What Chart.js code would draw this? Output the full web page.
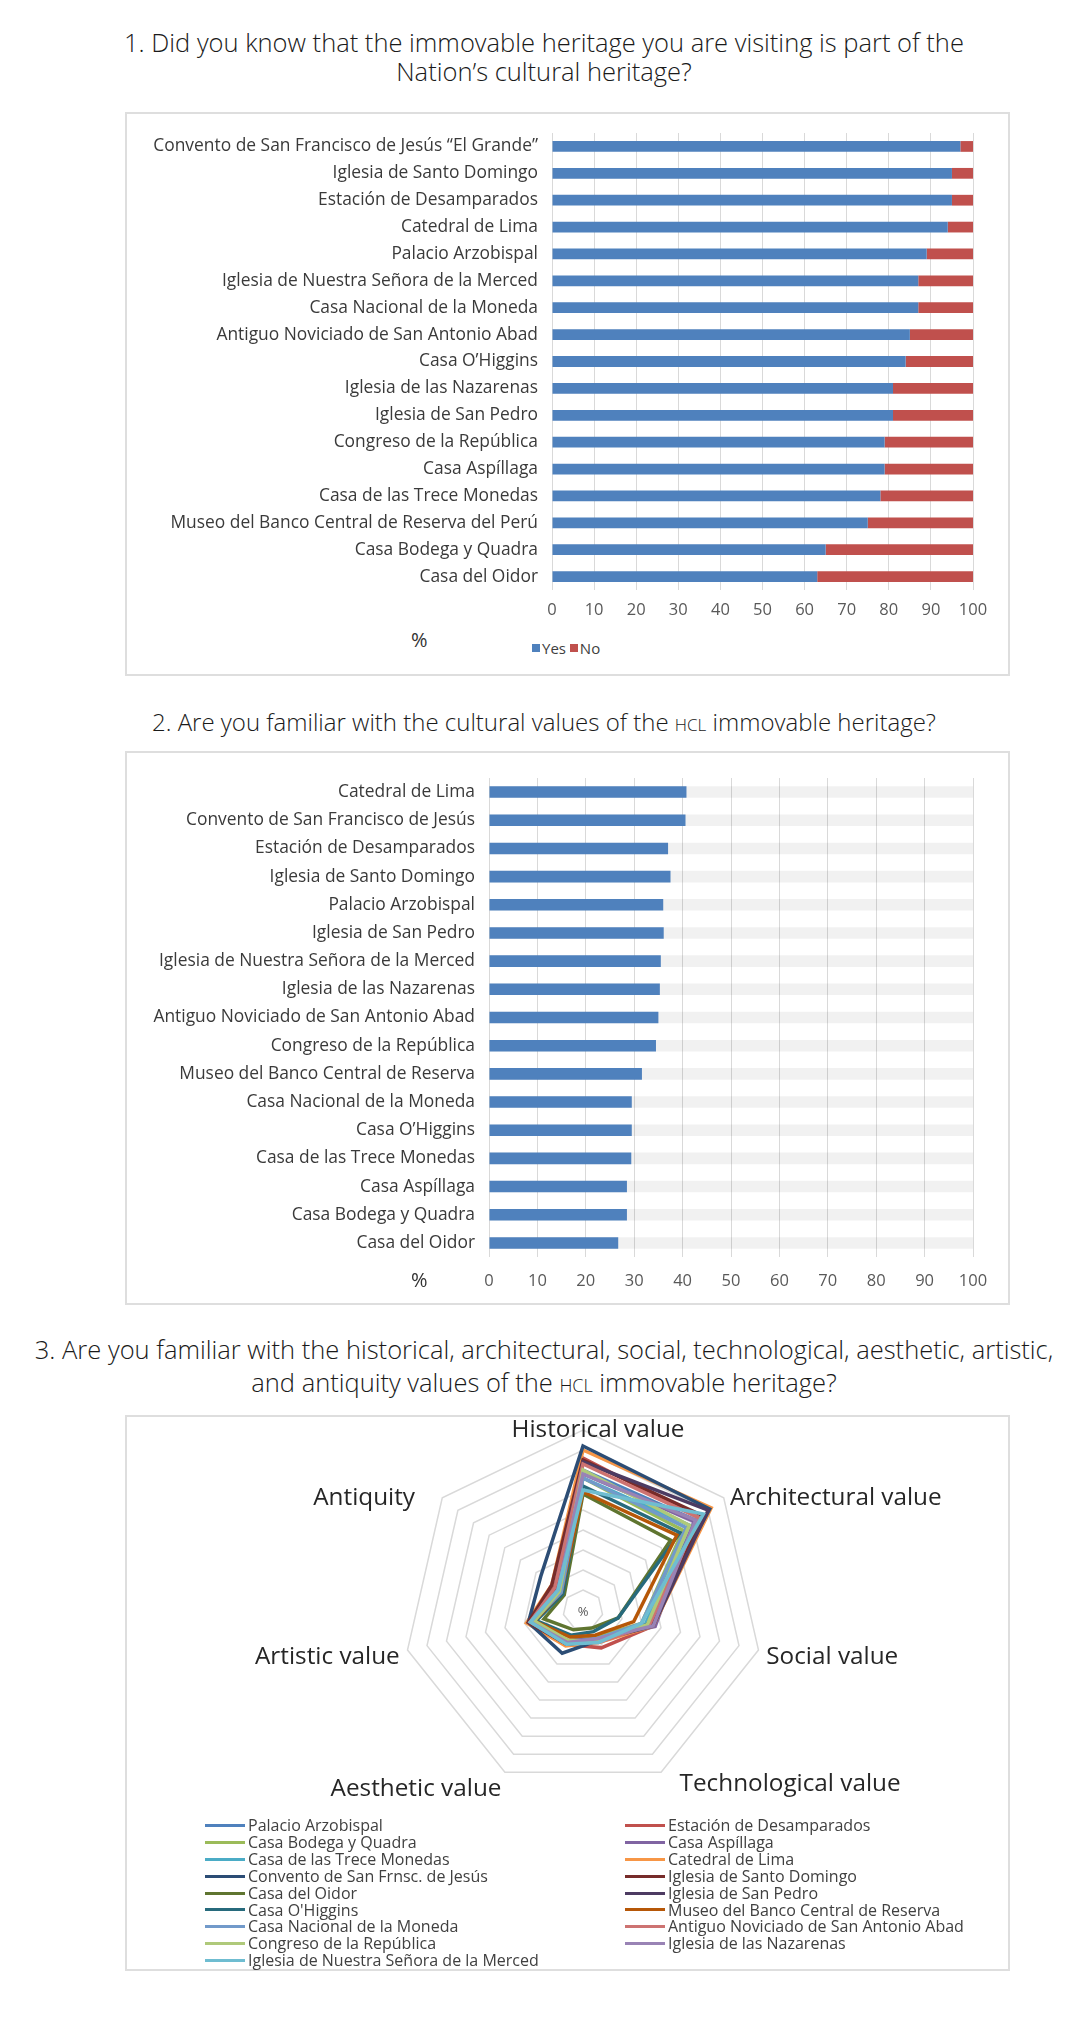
<!DOCTYPE html>
<html>
<head>
<meta charset="utf-8">
<script src="https://cdn.jsdelivr.net/npm/chart.js@4.4.1/dist/chart.umd.min.js"></script>
<style>
  html, body { margin: 0; padding: 0; background: #fff; }
  body { width: 1079px; height: 2028px; position: relative; overflow: hidden; font-family: 'Open Sans', sans-serif; }
  .title { position: absolute; width: 1088px; text-align: center; font-weight: 300; color: #1a1a1a; white-space: nowrap; }
  .sc { font-variant: small-caps; }
  .box { position: absolute; left: 125px; width: 885px; border: 2px solid #dedede; box-sizing: border-box; }
  canvas { position: absolute; }
  .pct { position: absolute; font-size: 20px; color: #333; }
  .key { position: absolute; display: flex; align-items: center; font-size: 15px; color: #404040; }
  .sq { display: inline-block; width: 8px; height: 8px; margin: 0 2px 0 0; }
  .legend3 { position: absolute; font-size: 16px; color: #404040; line-height: 16.9px; }
  .legend3 .item { position: absolute; display: flex; align-items: center; white-space: nowrap; }
  .legend3 .line { display: inline-block; width: 40px; height: 3px; margin-right: 3px; }
</style>
</head>
<body>

<div class="title" style="left:0; top:28px; line-height:29px; font-size:25.5px;">1. Did you know that the immovable heritage you are visiting is part of the<br>Nation’s cultural heritage?</div>
<div class="box" style="top:112px; height:564px;"></div>
<canvas id="q1Chart" width="881" height="511" style="left:127px; top:114px;"></canvas>
<div class="pct" style="left:411px; top:626px;">%</div>
<div class="key" style="left:532px; top:638px;">
  <span class="sq" style="background:#4F81BD"></span>Yes&nbsp;<span class="sq" style="background:#C0504D"></span>No
</div>

<div class="title" style="left:0; top:707px; line-height:29px; font-size:24px;">2. Are you familiar with the cultural values of the <span class="sc">hcl</span> immovable heritage?</div>
<div class="box" style="top:751px; height:554px;"></div>
<canvas id="q2Chart" width="881" height="540" style="left:127px; top:753px;"></canvas>
<div class="pct" style="left:411px; top:1266px;">%</div>

<div class="title" style="left:0; top:1333px; line-height:32.5px; font-size:25.5px;">3. Are you familiar with the historical, architectural, social, technological, aesthetic, artistic,<br>and antiquity values of the <span class="sc">hcl</span> immovable heritage?</div>
<div class="box" style="top:1415px; height:556px;"></div>
<canvas id="q3Chart" width="881" height="430" style="left:127px; top:1390px;"></canvas>
<div class="legend3" id="q3Legend"></div>

<script>
Chart.defaults.font.family = "'Open Sans', sans-serif";
Chart.defaults.animation = false;

// Question 1 data
const q1Sites = [
    "Convento de San Francisco de Jesús “El Grande”",
    "Iglesia de Santo Domingo",
    "Estación de Desamparados",
    "Catedral de Lima",
    "Palacio Arzobispal",
    "Iglesia de Nuestra Señora de la Merced",
    "Casa Nacional de la Moneda",
    "Antiguo Noviciado de San Antonio Abad",
    "Casa O’Higgins",
    "Iglesia de las Nazarenas",
    "Iglesia de San Pedro",
    "Congreso de la República",
    "Casa Aspíllaga",
    "Casa de las Trece Monedas",
    "Museo del Banco Central de Reserva del Perú",
    "Casa Bodega y Quadra",
    "Casa del Oidor"
];
const q1Yes = [97, 95, 95, 94, 89, 87, 87, 85, 84, 81, 81, 79, 79, 78, 75, 65, 63];
const q1No = [3, 5, 5, 6, 11, 13, 13, 15, 16, 19, 19, 21, 21, 22, 25, 35, 37];
const q1Ticks = [0, 10, 20, 30, 40, 50, 60, 70, 80, 90, 100];

// Question 2 data
const q2Sites = [
    "Catedral de Lima",
    "Convento de San Francisco de Jesús",
    "Estación de Desamparados",
    "Iglesia de Santo Domingo",
    "Palacio Arzobispal",
    "Iglesia de San Pedro",
    "Iglesia de Nuestra Señora de la Merced",
    "Iglesia de las Nazarenas",
    "Antiguo Noviciado de San Antonio Abad",
    "Congreso de la República",
    "Museo del Banco Central de Reserva",
    "Casa Nacional de la Moneda",
    "Casa O’Higgins",
    "Casa de las Trece Monedas",
    "Casa Aspíllaga",
    "Casa Bodega y Quadra",
    "Casa del Oidor"
];
const q2Familiar = [40.8, 40.6, 37.0, 37.5, 36.0, 36.1, 35.5, 35.3, 35.0, 34.5, 31.6, 29.5, 29.5, 29.4, 28.5, 28.5, 26.7];
const q2Track = [100, 100, 100, 100, 100, 100, 100, 100, 100, 100, 100, 100, 100, 100, 100, 100, 100];

// Question 3 data
const q3Axes = ["Historical value", "Architectural value", "Social value", "Technological value", "Aesthetic value", "Artistic value", "Antiquity"];
const palacioArzobispal = [70, 72, 33, 17, 19, 27, 17];
const estacionDesamparados = [76, 74, 36, 21, 19, 27, 19];
const casaBodegaQuadra = [66, 64, 30, 15, 17, 26, 15];
const casaAspillaga = [68, 71, 37, 16, 17, 27, 16];
const casaTreceMonedas = [66, 68, 32, 16, 18, 26, 15];
const catedralLima = [80, 82, 36, 18, 20, 29, 20];
const conventoSanFrancisco = [82, 81, 33, 17, 24, 28, 27];
const santoDomingo = [75, 76, 35, 17, 19, 28, 20];
const casaOidor = [58, 56, 18, 10, 11, 20, 12];
const sanPedro = [74, 80, 36, 17, 19, 27, 18];
const casaOHiggins = [62, 62, 18, 12, 14, 24, 13];
const museoBCR = [59, 60, 26, 14, 15, 25, 14];
const casaMoneda = [66, 66, 30, 16, 19, 26, 14];
const antiguoNoviciado = [73, 74, 34, 18, 18, 27, 18];
const congresoRepublica = [70, 68, 33, 17, 17, 25, 15];
const iglesiaNazarenas = [68, 72, 36, 16, 18, 27, 16];
const iglesiaMerced = [60, 77, 30, 18, 19, 27, 16];

const q3Names = [
    "Palacio Arzobispal", "Estación de Desamparados",
    "Casa Bodega y Quadra", "Casa Aspíllaga",
    "Casa de las Trece Monedas", "Catedral de Lima",
    "Convento de San Frnsc. de Jesús", "Iglesia de Santo Domingo",
    "Casa del Oidor", "Iglesia de San Pedro",
    "Casa O'Higgins", "Museo del Banco Central de Reserva",
    "Casa Nacional de la Moneda", "Antiguo Noviciado de San Antonio Abad",
    "Congreso de la República", "Iglesia de las Nazarenas",
    "Iglesia de Nuestra Señora de la Merced"
];
const q3Values = [
    palacioArzobispal, estacionDesamparados, casaBodegaQuadra, casaAspillaga,
    casaTreceMonedas, catedralLima, conventoSanFrancisco, santoDomingo,
    casaOidor, sanPedro, casaOHiggins, museoBCR, casaMoneda, antiguoNoviciado,
    congresoRepublica, iglesiaNazarenas, iglesiaMerced
];

const palette = [
    "#4F81BD", "#C0504D", "#9BBB59", "#8064A2", "#4BACC6", "#F79646",
    "#2C4D75", "#772C2A", "#5F7530", "#4D3B62", "#276A7C", "#B65708",
    "#729ACA", "#CD7371", "#AFC97A", "#9983B5", "#6FBDD1"
];

const gridGray = "#d9d9d9";
const labelFont = { size: 17.4 };
const tickFont = { size: 16.5 };

// Shared horizontal-bar axes
const percentAxis = (height, pad) => ({
    min: 0,
    max: 100,
    afterBuildTicks: (axis) => { axis.ticks = q1Ticks.map(v => ({ value: v })); },
    ticks: { color: "#595959", font: tickFont, padding: pad },
    grid: { color: gridGray, drawTicks: false },
    border: { display: false },
    afterFit: (axis) => { axis.height = height; }
});
const siteAxis = (width) => ({
    ticks: { color: "#3a3a3a", font: labelFont, padding: 14, autoSkip: false },
    grid: { display: false, drawTicks: false },
    border: { display: false },
    afterFit: (axis) => {
        axis.width = width;
        // bars are centred in their bands, so no extra room for label overflow
        axis.paddingTop = 0;
        axis.paddingBottom = 0;
    }
});

// Chart 1: Yes / No stacked bars
new Chart(document.getElementById("q1Chart"), {
    type: "bar",
    data: {
        labels: q1Sites,
        datasets: [
            { label: "Yes", data: q1Yes, backgroundColor: "#4F81BD" },
            { label: "No", data: q1No, backgroundColor: "#C0504D" }
        ]
    },
    options: {
        indexAxis: "y",
        responsive: false,
        barPercentage: 0.4,
        categoryPercentage: 1,
        layout: { padding: { top: 19, right: 35, left: 0, bottom: 0 } },
        plugins: { legend: { display: false }, tooltip: { enabled: false } },
        scales: {
            x: Object.assign(percentAxis(35, 10), { stacked: true }),
            y: Object.assign(siteAxis(425), { stacked: true })
        }
    }
});

// Chart 2: familiarity bars on a grey track
new Chart(document.getElementById("q2Chart"), {
    type: "bar",
    data: {
        labels: q2Sites,
        datasets: [
            { label: "Familiar", data: q2Familiar, backgroundColor: "#4F81BD", grouped: false },
            { label: "Track", data: q2Track, backgroundColor: "rgba(0,0,0,0.055)", grouped: false }
        ]
    },
    options: {
        indexAxis: "y",
        responsive: false,
        barPercentage: 0.41,
        categoryPercentage: 1,
        layout: { padding: { top: 25, right: 35, left: 0, bottom: 0 } },
        plugins: { legend: { display: false }, tooltip: { enabled: false } },
        scales: {
            x: percentAxis(36, 14),
            y: siteAxis(362)
        }
    }
});

// Radar axis labels and centre mark
const radarLabels = {
    id: "radarLabels",
    afterDraw(chart) {
        const r = chart.scales.r;
        const ctx = chart.ctx;
        const nudge = { 0: [15, 3], 3: [15, 0], 4: [0, 5], 6: [-21, 0] };
        ctx.save();
        ctx.font = "400 24.3px 'Open Sans'";
        ctx.fillStyle = "#262626";
        ctx.textBaseline = "middle";
        chart.data.labels.forEach((label, i) => {
            const p = r.getPointPosition(i, r.drawingArea + 8);
            const dx = p.x - r.xCenter;
            const [nx, ny] = nudge[i] || [0, 0];
            ctx.textAlign = Math.abs(dx) < 5 ? "center" : (dx > 0 ? "left" : "right");
            ctx.fillText(label, p.x + nx, p.y + 5 + ny);
        });
        ctx.font = "13px 'Open Sans'";
        ctx.fillStyle = "#595959";
        ctx.textAlign = "center";
        ctx.fillText("%", r.xCenter, r.yCenter + 2);
        ctx.restore();
    }
};

const q3Chart = new Chart(document.getElementById("q3Chart"), {
    type: "radar",
    data: {
        labels: q3Axes,
        datasets: q3Names.map((name, i) => ({
            label: name,
            data: q3Values[i],
            borderColor: palette[i],
            backgroundColor: palette[i],
            borderWidth: 3.5,
            pointRadius: 0,
            fill: false,
            order: q3Names.length - i
        }))
    },
    options: {
        responsive: false,
        layout: { padding: { left: 276, right: 245, top: 40, bottom: 30 } },
        plugins: { legend: { display: false }, tooltip: { enabled: false } },
        scales: {
            r: {
                min: 0,
                max: 90,
                ticks: { display: false, stepSize: 10 },
                grid: { color: gridGray, lineWidth: 1.5 },
                angleLines: { display: false },
                pointLabels: { display: false }
            }
        }
    },
    plugins: [radarLabels]
});

// Two-column legend for the radar chart
const legendEl = document.getElementById("q3Legend");
q3Chart.data.datasets.forEach((ds, i) => {
    const item = document.createElement("div");
    item.className = "item";
    item.style.left = (i % 2 === 0 ? 205 : 625) + "px";
    item.style.top = (1817 + Math.floor(i / 2) * 16.9) + "px";
    item.innerHTML = '<span class="line" style="background:' + ds.borderColor + '"></span>' + ds.label;
    legendEl.appendChild(item);
});
</script>
</body>
</html>
